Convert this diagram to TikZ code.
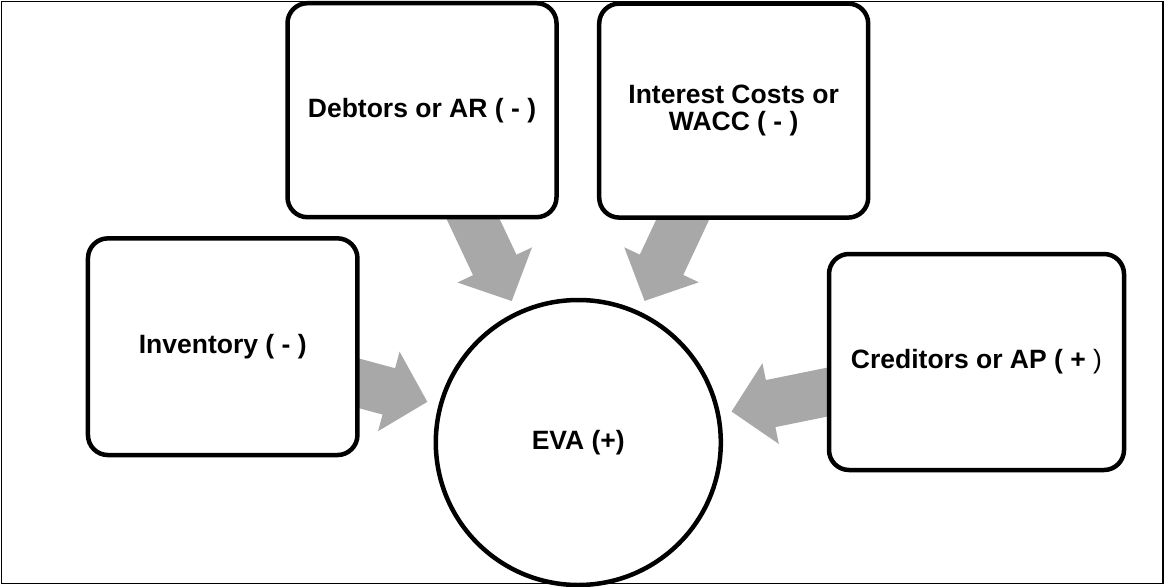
\documentclass[tikz,border=0pt]{standalone}
\usepackage{fontspec}
\setmainfont{Liberation Sans}
\usetikzlibrary{arrows.meta,backgrounds}
\definecolor{flowgray}{RGB}{168,168,168}
\begin{document}
\begin{tikzpicture}[x=1pt,y=-1pt,
  labelfont/.style={font=\bfseries\fontsize{26.5pt}{27.7pt}\selectfont},
  card/.style={draw=black, line width=4.5pt, fill=white, rounded corners=20pt,
    align=center, inner sep=0pt, labelfont},
  hub/.style={circle, draw=black, line width=4.5pt, fill=white,
    minimum size=285pt, inner sep=0pt, labelfont},
  flow/.style={draw=flowgray, line width=48pt,
    -{Triangle[width=80pt,length=40pt]},
    shorten <=-30pt, shorten >=11.5pt}]
\useasboundingbox (0,0) rectangle (1166,586);

% outer frame
\draw[line width=1.5pt] (1.5,1.5) rectangle (1163,583.5);

% centre
\node[hub] (eva) at (578.3,442.5) {EVA (+)};

% drivers
\node[card, minimum width=269pt, minimum height=214pt] (deb) at (422,110.2)
  {Debtors or AR ( - )};
\node[card, minimum width=269pt, minimum height=214pt] (wacc) at (733.7,110.6)
  {Interest Costs or\\WACC ( - )};
\node[card, minimum width=269.5pt, minimum height=216.7pt] (inv) at (222.7,346.7)
  {Inventory ( - )};
\node[card, minimum width=295pt, minimum height=216pt] (cred) at (976.5,362)
  {Creditors or AP ( + {\mdseries)}};

% block arrows into the centre
\begin{scope}[on background layer]
  \draw[flow] (deb) -- (eva);
  \draw[flow] (wacc) -- (eva);
  \draw[flow] (inv) -- (eva);
  \draw[flow] (cred) -- (eva);
\end{scope}
\end{tikzpicture}
\end{document}
